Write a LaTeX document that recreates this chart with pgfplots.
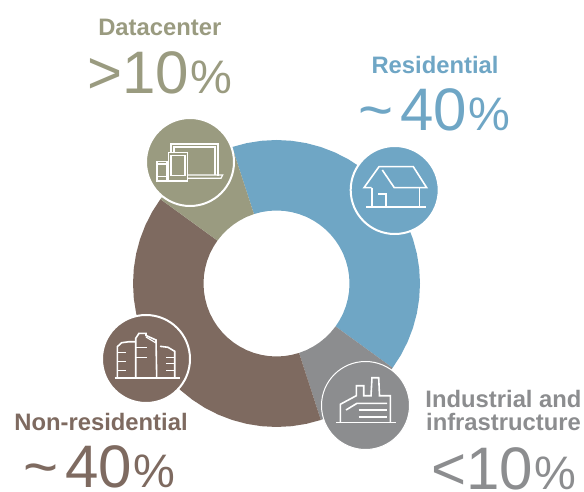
\documentclass[border=0pt]{standalone}
\usepackage{pgfplots}
\pgfplotsset{compat=1.18}
\usepackage{fontspec}
\setmainfont{Liberation Sans}
\definecolor{cblue}{HTML}{6FA6C5}
\definecolor{csage}{HTML}{9A9B80}
\definecolor{cbrown}{HTML}{7E6A60}
\definecolor{cgrey}{HTML}{8C8D8F}
\pgfplotsset{base/.style={at={(0,0)},anchor=south west,scale only axis,width=584pt,height=492pt,hide axis,clip=false},
 ic/.style={white,no markers,line width=1.6pt,line join=miter},
 ict/.style={white,no markers,line width=1.2pt,line join=miter}}
\newcommand{\lab}[4]{\node[anchor=base,text=#1,font=\fontsize{23.8}{26}\bfseries\selectfont,inner sep=0pt] at (axis cs:#2,#3) {#4};}
\newcommand{\pct}[5]{\node[anchor=base west,text=#1,inner sep=0pt] at (axis cs:#2,#3) {\fontsize{60}{60}\selectfont #4\kern2pt\fontsize{47}{47}\selectfont #5};}
\begin{document}
\begin{tikzpicture}
\useasboundingbox (0,0) rectangle (584pt,492pt);
% donut: share of electricity use, wedges in polar data coordinates (angle, radius)
\begin{axis}[base,xmin=-276.5,xmax=307.5,ymin=-208.5,ymax=283.5]
\addplot[fill=cblue,draw=none,data cs=polar] coordinates {
(108,143.5)(102,143.5)(96,143.5)(90,143.5)(84,143.5)(78,143.5)(72,143.5)(66,143.5)(60,143.5)(54,143.5)(48,143.5)(42,143.5)(36,143.5)(30,143.5)(24,143.5)(18,143.5)(12,143.5)(6,143.5)(0,143.5)(-6,143.5)(-12,143.5)(-18,143.5)(-24,143.5)(-30,143.5)(-36,143.5)
(-36,73)(-30,73)(-24,73)(-18,73)(-12,73)(-6,73)(0,73)(6,73)(12,73)(18,73)(24,73)(30,73)(36,73)(42,73)(48,73)(54,73)(60,73)(66,73)(72,73)(78,73)(84,73)(90,73)(96,73)(102,73)(108,73)} -- cycle;
\addplot[fill=cgrey,draw=none,data cs=polar] coordinates {
(-36,143.5)(-42,143.5)(-48,143.5)(-54,143.5)(-60,143.5)(-66,143.5)(-72,143.5)
(-72,73)(-66,73)(-60,73)(-54,73)(-48,73)(-42,73)(-36,73)} -- cycle;
\addplot[fill=cbrown,draw=none,data cs=polar] coordinates {
(-72,143.5)(-78,143.5)(-84,143.5)(-90,143.5)(-96,143.5)(-102,143.5)(-108,143.5)(-114,143.5)(-120,143.5)(-126,143.5)(-132,143.5)(-138,143.5)(-144,143.5)(-150,143.5)(-156,143.5)(-162,143.5)(-168,143.5)(-174,143.5)(-180,143.5)(-186,143.5)(-192,143.5)(-198,143.5)(-204,143.5)(-210,143.5)(-216,143.5)
(-216,73)(-210,73)(-204,73)(-198,73)(-192,73)(-186,73)(-180,73)(-174,73)(-168,73)(-162,73)(-156,73)(-150,73)(-144,73)(-138,73)(-132,73)(-126,73)(-120,73)(-114,73)(-108,73)(-102,73)(-96,73)(-90,73)(-84,73)(-78,73)(-72,73)} -- cycle;
\addplot[fill=csage,draw=none,data cs=polar] coordinates {
(-216,143.5)(-222,143.5)(-228,143.5)(-234,143.5)(-240,143.5)(-246,143.5)(-252,143.5)
(-252,73)(-246,73)(-240,73)(-234,73)(-228,73)(-222,73)(-216,73)} -- cycle;
\end{axis}
% icon discs in picture coordinates
\begin{axis}[base,xmin=0,xmax=584,ymin=0,ymax=492,y dir=reverse]
\addplot[only marks,mark=*,mark size=44pt,mark options={fill=csage,draw=white,line width=2pt}] coordinates {(190,162)};
\addplot[only marks,mark=*,mark size=44pt,mark options={fill=cblue,draw=white,line width=2pt}] coordinates {(394.7,190)};
\addplot[only marks,mark=*,mark size=44pt,mark options={fill=cbrown,draw=white,line width=2pt}] coordinates {(146,359)};
\addplot[only marks,mark=*,mark size=44pt,mark options={fill=cgrey,draw=white,line width=1pt}] coordinates {(365.5,405.5)};
\end{axis}
% icons and text in picture coordinates
\begin{axis}[base,xmin=0,xmax=584,ymin=0,ymax=492,y dir=reverse]
% devices
\addplot[ic] coordinates {(171,176)(171,144)(218,144)(218,176)};
\addplot[ict] coordinates {(174,175)(174,147)(215,147)(215,175)};
\addplot[ict] coordinates {(187,175)(222.7,175)(221,178.3)(187,178.3)};
\addplot[ic,fill=csage] coordinates {(168.3,152.7)(187.3,152.7)(187.3,181)(168.3,181)} -- cycle;
\addplot[ict] coordinates {(171,155.7)(185,155.7)(185,175.7)(171,175.7)} -- cycle;
\addplot[ic,fill=csage] coordinates {(156.7,161.7)(166.7,161.7)(166.7,181)(156.7,181)} -- cycle;
\addplot[ict] coordinates {(156.7,164)(166.7,164)};
\addplot[ict] coordinates {(156.7,176.7)(166.7,176.7)};
% house
\addplot[ic] coordinates {(371.7,187.7)(364,187.7)(379,166.7)(413.3,166.7)(426.7,187.7)(394.3,187.7)(382.3,170)};
\addplot[ic] coordinates {(371.7,187.7)(371.7,206.7)};
\addplot[ic] coordinates {(419.3,187.7)(419.3,206.7)};
\addplot[ic] coordinates {(366,206.7)(426,206.7)};
\addplot[ic] coordinates {(378.3,194)(385.7,194)(385.7,206.7)};
% buildings
\addplot[ic] coordinates {(114.7,378)(179.7,378)};
\addplot[ic] coordinates {(117.3,378)(117.3,346.7)(121.7,342.7)(129.3,341.7)(135.7,341.7)};
\addplot[ic] coordinates {(135.7,378)(135.7,338.3)(139,333.3)(146,333.3)(146,335.5)(156,340)(156.7,378)};
\addplot[ict] coordinates {(146,337)(156,343)};
\addplot[ic] coordinates {(160,346.3)(168,347.3)(174.7,351.3)(174.7,378)};
\addplot[ic] coordinates {(117,352.3)(125.7,352.3)};
\addplot[ic] coordinates {(117,361.3)(125.7,361.3)};
\addplot[ic] coordinates {(117,370.3)(125.7,370.3)};
\addplot[ic] coordinates {(135.7,347.3)(147,347.3)};
\addplot[ic] coordinates {(135.7,357.3)(147,357.3)};
\addplot[ic] coordinates {(166.3,357.3)(174.7,357.3)};
\addplot[ic] coordinates {(166.3,363.5)(174.7,363.5)};
\addplot[ic] coordinates {(166.3,370.3)(174.7,370.3)};
% factory
\addplot[ic] coordinates {(336,422.3)(396,422.3)};
\addplot[ic] coordinates {(340.3,422.3)(340.3,404.3)(356.3,395.7)(356.3,385.7)(363.7,385.7)(363.7,395.7)(371,395.7)(372,377.7)(378.7,377.7)(379.5,395.7)(390.3,395.7)(390.3,422.3)};
\addplot[ic] coordinates {(346,410)(357,403.3)(387,403.3)};
\addplot[ic] coordinates {(358.7,410)(387,410)};
\addplot[ic] coordinates {(358.7,416.7)(387,416.7)};
% text
\lab{csage}{159.8}{36}{Datacenter}
\lab{cblue}{435}{73.3}{Residential}
\lab{cbrown}{101}{430}{Non-residential}
\lab{cgrey}{503.5}{407.3}{Industrial and}
\lab{cgrey}{503.5}{430}{infrastructure}
\pct{csage}{87}{94}{>10}{\%}
\pct{cblue}{358}{131}{\char"7E\kern7pt 40}{\%}
\pct{cbrown}{23}{487}{\char"7E\kern7pt 40}{\%}
\pct{cgrey}{431}{489}{<10}{\%}
\end{axis}
\end{tikzpicture}
\end{document}
